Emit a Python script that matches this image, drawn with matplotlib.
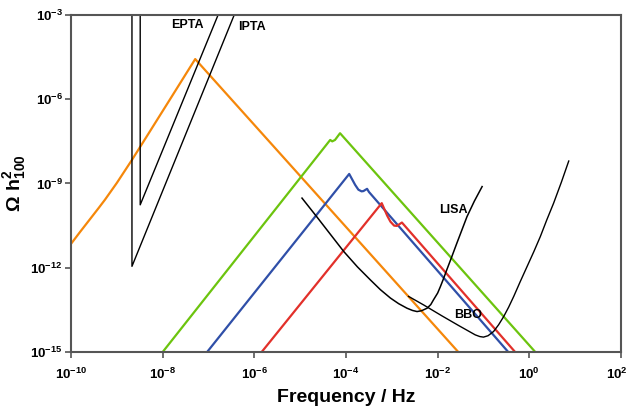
import numpy as np
import matplotlib
matplotlib.use("Agg")
import matplotlib.pyplot as plt
import matplotlib.transforms as mtransforms
from matplotlib.ticker import FixedLocator, FixedFormatter, NullLocator

plt.rcParams['font.family'] = ['Liberation Sans', 'DejaVu Sans']
plt.rcParams['mathtext.fontset'] = 'custom'
plt.rcParams['mathtext.rm'] = 'Liberation Sans:bold'
plt.rcParams['mathtext.bf'] = 'Liberation Sans:bold'
plt.rcParams['mathtext.it'] = 'Liberation Sans:bold'

# ---- data (log10 values) ----
orange_logf = [-10.0, -9.8, -9.6, -9.4, -9.26, -9.0, -8.67, -8.3, -7.8, -7.29, -1.55]
orange_logo = [-11.15, -10.72, -10.3, -9.88, -9.58, -8.98, -8.16, -7.2, -5.9, -4.57, -15.0]

green_logf = [-8.0, -4.345, -4.30, -4.24, -4.13, 0.13]
green_logo = [-15.0, -7.45, -7.50, -7.45, -7.21, -15.0]

blue_logf = [-7.03, -3.93, -3.80, -3.73, -3.66, -3.62, -3.54, -3.50, -0.46]
blue_logo = [-15.0, -8.66, -9.05, -9.22, -9.28, -9.27, -9.19, -9.30, -15.0]

red_logf = [-5.84, -3.22, -3.10, -3.03, -2.95, -2.89, -2.78, -0.31]
red_logo = [-15.0, -9.70, -10.15, -10.36, -10.50, -10.51, -10.39, -15.0]

epta_logf = [-8.49, -8.49, -6.54]
epta_logo = [-2.0, -9.76, -2.0]
ipta_logf = [-8.67, -8.67, -6.19]
ipta_logo = [-2.0, -11.95, -2.0]

lisa_logf = [-4.96, -4.80, -4.64, -4.45, -4.25, -4.05, -3.75, -3.47, -3.25,
             -3.03, -2.85, -2.67, -2.55, -2.45, -2.35, -2.23, -2.15, -2.09,
             -2.00, -1.94, -1.87, -1.80, -1.69, -1.58, -1.47, -1.36, -1.20,
             -1.03]
lisa_logo = [-9.52, -9.85, -10.18, -10.58, -11.00, -11.42, -11.97, -12.43,
             -12.78, -13.08, -13.28, -13.44, -13.52, -13.56, -13.53, -13.44,
             -13.31, -13.14, -12.90, -12.67, -12.38, -12.07, -11.60, -11.12,
             -10.65, -10.18, -9.63, -9.11]

bbo_logf = [-2.635, -2.3, -1.91, -1.55, -1.18, -1.08, -1.0, -0.90, -0.78,
            -0.67, -0.56, -0.45, -0.34, -0.20, -0.05, 0.10, 0.24, 0.38, 0.53,
            0.70, 0.86]
bbo_logo = [-13.02, -13.33, -13.71, -14.05, -14.39, -14.45, -14.47, -14.42,
            -14.27, -14.03, -13.74, -13.40, -13.02, -12.50, -11.96, -11.42,
            -10.89, -10.30, -9.70, -8.95, -8.20]

x_ticks = [1e-10, 1e-8, 1e-6, 1e-4, 1e-2, 1e0, 1e2]
x_labels = [r'$\mathbf{10^{-10}}$', r'$\mathbf{10^{-8}}$', r'$\mathbf{10^{-6}}$',
            r'$\mathbf{10^{-4}}$', r'$\mathbf{10^{-2}}$', r'$\mathbf{10^{0}}$',
            r'$\mathbf{10^{2}}$']
y_ticks = [1e-15, 1e-12, 1e-9, 1e-6, 1e-3]
y_labels = [r'$\mathbf{10^{-15}}$', r'$\mathbf{10^{-12}}$', r'$\mathbf{10^{-9}}$',
            r'$\mathbf{10^{-6}}$', r'$\mathbf{10^{-3}}$']


def p(v):
    return 10.0 ** np.asarray(v, dtype=float)


fig = plt.figure(figsize=(6.3, 4.15), dpi=100)
ax = fig.add_axes([0.1127, 0.1518, 0.8730, 0.8121])
ax.set_xscale('log')
ax.set_yscale('log')

ax.plot(p(orange_logf), p(orange_logo), color='#f5870a', lw=1.6)
ax.plot(p(green_logf), p(green_logo), color='#6cc40e', lw=1.6)
ax.plot(p(blue_logf), p(blue_logo), color='#2f4fa8', lw=1.6)
ax.plot(p(red_logf), p(red_logo), color='#e2302a', lw=1.6)
ax.plot(p(epta_logf), p(epta_logo), color='black', lw=1.0)
ax.plot(p(ipta_logf), p(ipta_logo), color='black', lw=1.0)
ax.plot(p(lisa_logf), p(lisa_logo), color='black', lw=1.1)
ax.plot(p(bbo_logf), p(bbo_logo), color='black', lw=1.0)

ax.set_xlim(1e-10, 1e2)
ax.set_ylim(1e-15, 1e-3)

ax.xaxis.set_major_locator(FixedLocator(x_ticks))
ax.xaxis.set_major_formatter(FixedFormatter(x_labels))
ax.yaxis.set_major_locator(FixedLocator(y_ticks))
ax.yaxis.set_major_formatter(FixedFormatter(y_labels))
ax.xaxis.set_minor_locator(NullLocator())
ax.yaxis.set_minor_locator(NullLocator())
ax.tick_params(axis='both', direction='out', length=4, width=1.2,
               colors='#555555', labelcolor='black', labelsize=9.5)
ax.tick_params(axis='x', pad=7)
ax.tick_params(axis='y', pad=2)
for s in ax.spines.values():
    s.set_color('#555555')
    s.set_linewidth(1.5)

# nudge the last x tick label so it stays inside the figure
last_lbl = ax.get_xticklabels()[-1]
last_lbl.set_transform(last_lbl.get_transform() +
                       mtransforms.ScaledTranslation(-4 / 100, 0, fig.dpi_scale_trans))

ax.text(10 ** -7.45, 10 ** -3.35, 'EPTA', fontsize=9, fontweight='bold',
        ha='center', va='center')
ax.text(10 ** -6.05, 10 ** -3.42, 'IPTA', fontsize=9, fontweight='bold',
        ha='center', va='center')
ax.text(10 ** -1.66, 10 ** -9.96, 'LISA', fontsize=9, fontweight='bold',
        ha='center', va='center')
ax.text(10 ** -1.33, 10 ** -13.68, 'BBO', fontsize=9, fontweight='bold',
        ha='center', va='center')

ax.set_xlabel('Frequency / Hz', fontsize=14, fontweight='bold', labelpad=5)
ax.set_ylabel(r'$\mathbf{\Omega\ h^{2}_{100}}$', fontsize=14, labelpad=2)

fig.savefig('out.png', dpi=100)
